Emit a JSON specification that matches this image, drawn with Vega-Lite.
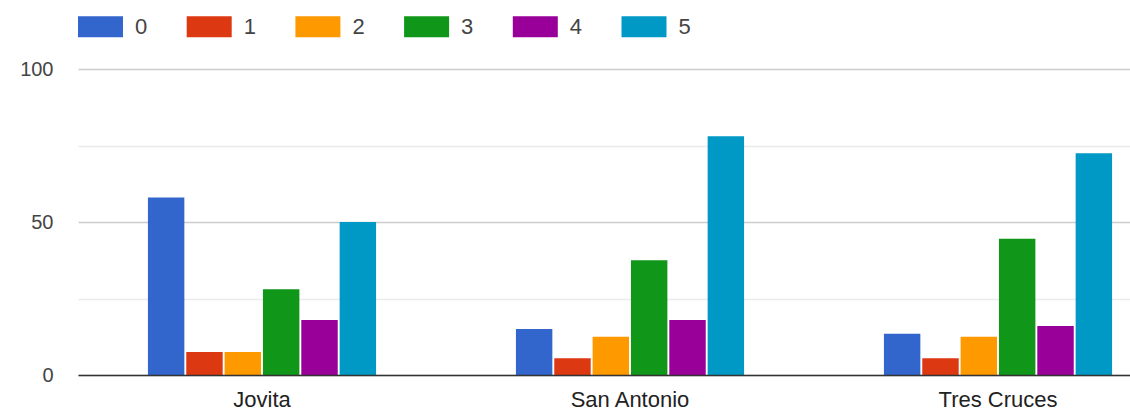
{
  "$schema": "https://vega.github.io/schema/vega-lite/v6.json",
  "autosize": {"type": "none"},
  "padding": {"left": 78, "top": 69, "right": 0, "bottom": 39},
  "width": 1052,
  "height": 306,
  "background": "white",
  "data": {
    "values": [
      {"place": "Jovita", "answer": "0", "value": 58},
      {"place": "Jovita", "answer": "1", "value": 7.5},
      {"place": "Jovita", "answer": "2", "value": 7.5},
      {"place": "Jovita", "answer": "3", "value": 28},
      {"place": "Jovita", "answer": "4", "value": 18},
      {"place": "Jovita", "answer": "5", "value": 50},
      {"place": "San Antonio", "answer": "0", "value": 15},
      {"place": "San Antonio", "answer": "1", "value": 5.5},
      {"place": "San Antonio", "answer": "2", "value": 12.5},
      {"place": "San Antonio", "answer": "3", "value": 37.5},
      {"place": "San Antonio", "answer": "4", "value": 18},
      {"place": "San Antonio", "answer": "5", "value": 78},
      {"place": "Tres Cruces", "answer": "0", "value": 13.5},
      {"place": "Tres Cruces", "answer": "1", "value": 5.5},
      {"place": "Tres Cruces", "answer": "2", "value": 12.5},
      {"place": "Tres Cruces", "answer": "3", "value": 44.5},
      {"place": "Tres Cruces", "answer": "4", "value": 16},
      {"place": "Tres Cruces", "answer": "5", "value": 72.5}
    ]
  },
  "config": {
    "view": {"stroke": null},
    "font": "Liberation Sans"
  },
  "mark": {"type": "bar"},
  "encoding": {
    "x": {
      "field": "place",
      "type": "nominal",
      "sort": null,
      "scale": {"range": [0, 1104], "paddingInner": 0.38, "paddingOuter": 0.19},
      "axis": {
        "title": null,
        "labelAngle": 0,
        "ticks": false,
        "domain": true,
        "domainColor": "#333333",
        "domainWidth": 1.5,
        "labelFontSize": 22,
        "labelColor": "#222222",
        "labelPadding": 14,
        "labelFont": "Liberation Sans",
        "zindex": 1
      }
    },
    "xOffset": {
      "field": "answer",
      "type": "nominal",
      "scale": {"paddingInner": 0.05}
    },
    "y": {
      "field": "value",
      "type": "quantitative",
      "scale": {"domain": [0, 100], "nice": false},
      "axis": {
        "title": null,
        "values": [0, 25, 50, 75, 100],
        "labelExpr": "datum.value % 50 === 0 ? datum.label : ''",
        "domain": false,
        "ticks": false,
        "labelPadding": 25,
        "labelFontSize": 20,
        "labelColor": "#444444",
        "labelFont": "Liberation Sans",
        "gridColor": {"condition": {"test": "datum.value % 50 === 0", "value": "#cccccc"}, "value": "#ebebeb"},
        "gridWidth": 1.5
      }
    },
    "color": {
      "field": "answer",
      "type": "nominal",
      "scale": {
        "domain": ["0", "1", "2", "3", "4", "5"],
        "range": ["#3366cc", "#dc3912", "#ff9900", "#109618", "#990099", "#0099c6"]
      },
      "legend": {
        "title": null,
        "orient": "none",
        "legendX": 0,
        "legendY": -65,
        "direction": "horizontal",
        "columns": 6,
        "symbolType": "M-1,-0.467H1V0.467H-1Z",
        "symbolSize": 2025,
        "symbolStrokeWidth": 0,
        "symbolOpacity": 1,
        "labelFontSize": 22,
        "labelColor": "#444444",
        "labelFont": "Liberation Sans",
        "labelOffset": 12,
        "columnPadding": 38.7,
        "padding": 0
      }
    }
  }
}
